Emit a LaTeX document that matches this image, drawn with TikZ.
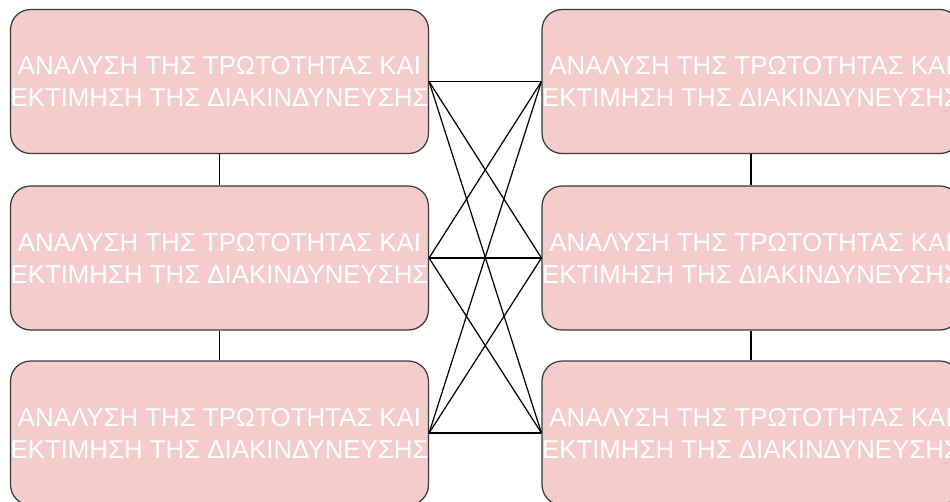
\documentclass[tikz,border=0pt]{standalone}
\usepackage{fontspec}
\setmainfont{Liberation Sans}
\definecolor{boxfill}{HTML}{F5CCCC}
\definecolor{boxline}{HTML}{36393D}
\newcommand{\risktext}{ΑΝΑΛΥΣΗ ΤΗΣ ΤΡΩΤΟΤΗΤΑΣ ΚΑΙ\\ΕΚΤΙΜΗΣΗ ΤΗΣ ΔΙΑΚΙΝΔΥΝΕΥΣΗΣ}
\begin{document}
\begin{tikzpicture}[x=0.02cm, y=-0.02cm,
    riskbox/.style={draw=boxline, fill=boxfill, line width=0.7pt, rounded corners=0.4cm,
        minimum width=8.34cm, minimum height=2.88cm, inner sep=0pt, align=center,
        text=white, font=\fontsize{14.7}{18.2}\selectfont}]
    % 画布
    \useasboundingbox (0,0) rectangle (950,501);
    \clip (0,0) rectangle (950,501);

    % 左列
    \node[riskbox] (L1) at (219.5, 81.5) {\risktext};
    \node[riskbox] (L2) at (219.5, 258) {\risktext};
    \node[riskbox] (L3) at (219.5, 433) {\risktext};

    % 右列
    \node[riskbox] (R1) at (751, 81.5) {\risktext};
    \node[riskbox] (R2) at (751, 258) {\risktext};
    \node[riskbox] (R3) at (751, 433) {\risktext};

    % 竖线
    \draw[line width=0.7pt] (L1) -- (L2);
    \draw[line width=0.7pt] (L2) -- (L3);
    \draw[line width=0.7pt] (R1) -- (R2);
    \draw[line width=0.7pt] (R2) -- (R3);

    % 交叉连线
    \draw[line width=0.7pt] (L1.east) -- (R1.west);
    \draw[line width=0.7pt] (L1.east) -- (R2.west);
    \draw[line width=0.7pt] (L1.east) -- (R3.west);
    \draw[line width=0.7pt] (L2.east) -- (R1.west);
    \draw[line width=0.7pt] (L2.east) -- (R2.west);
    \draw[line width=0.7pt] (L2.east) -- (R3.west);
    \draw[line width=0.7pt] (L3.east) -- (R1.west);
    \draw[line width=0.7pt] (L3.east) -- (R2.west);
    \draw[line width=0.7pt] (L3.east) -- (R3.west);
\end{tikzpicture}
\end{document}
